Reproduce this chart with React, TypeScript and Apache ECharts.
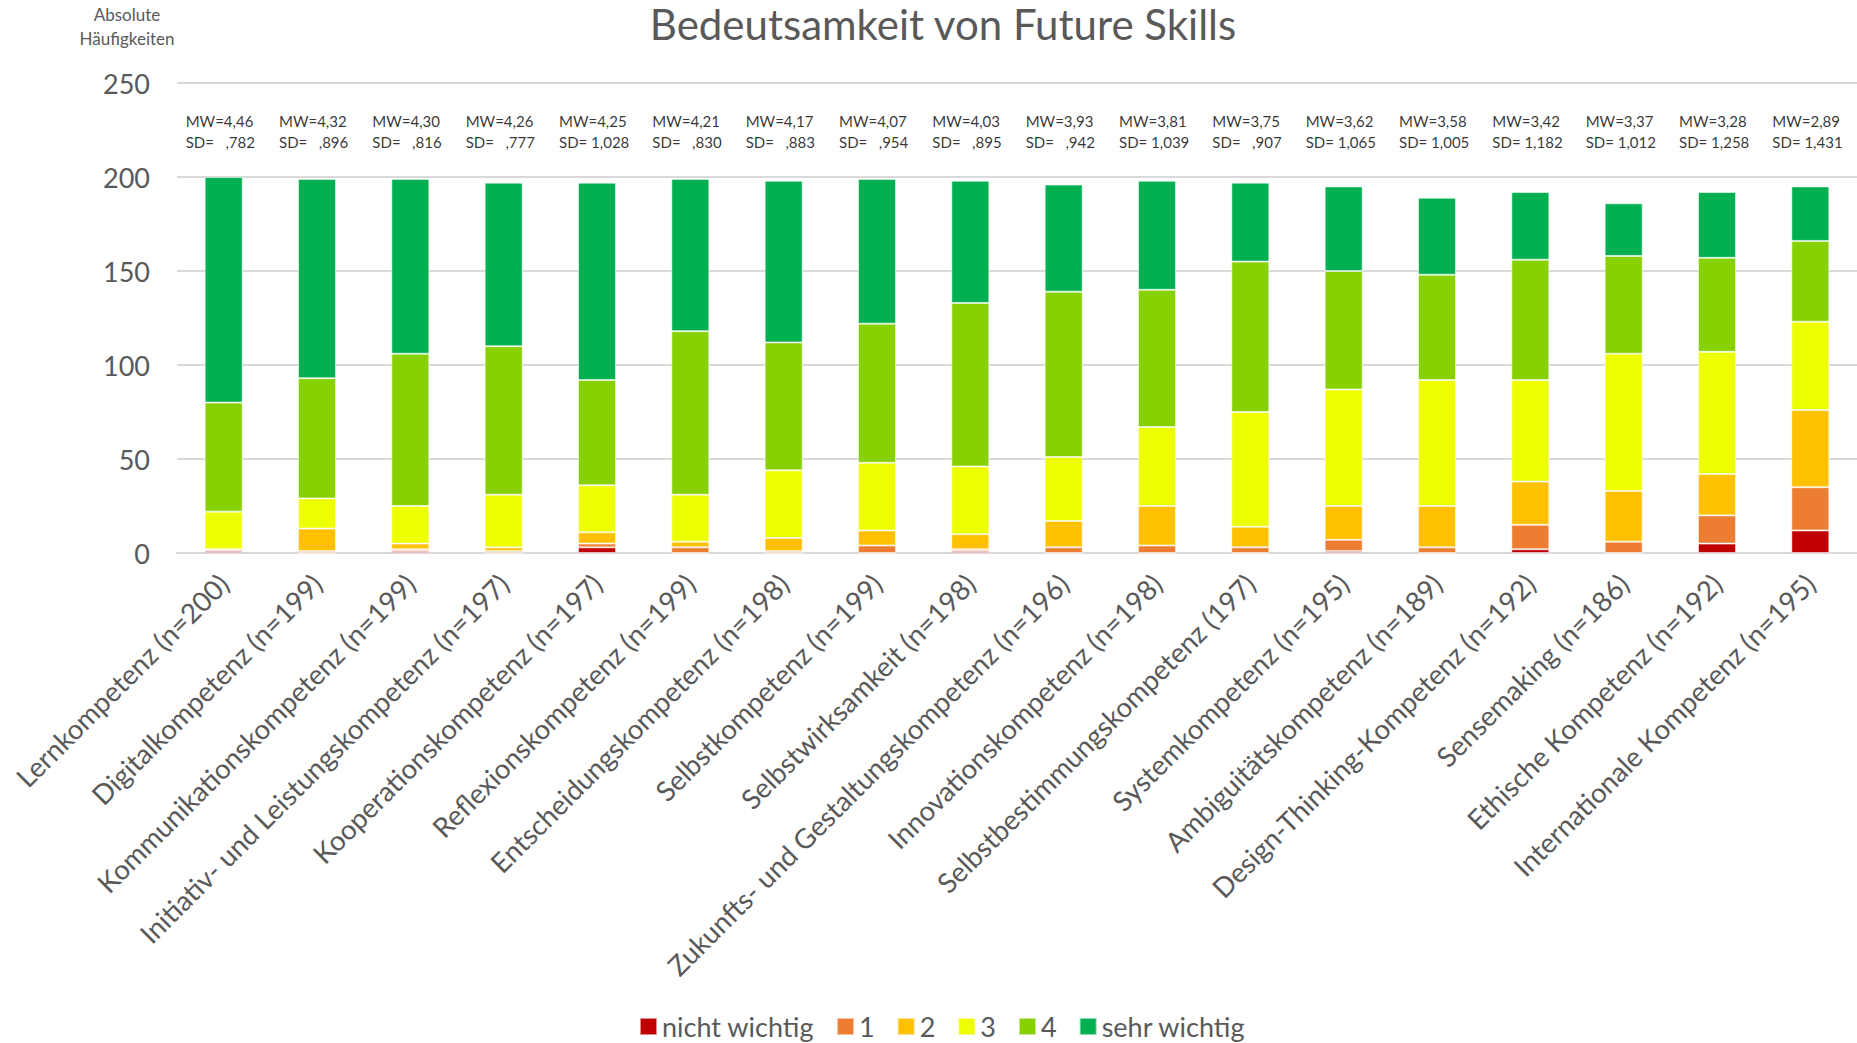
import React, { useEffect, useRef } from "react";
import * as echarts from "echarts";

const categories = [
  "Lernkompetenz (n=200)",
  "Digitalkompetenz (n=199)",
  "Kommunikationskompetenz (n=199)",
  "Initiativ- und Leistungskompetenz (n=197)",
  "Kooperationskompetenz (n=197)",
  "Reflexionskompetenz (n=199)",
  "Entscheidungskompetenz (n=198)",
  "Selbstkompetenz (n=199)",
  "Selbstwirksamkeit (n=198)",
  "Zukunfts- und Gestaltungskompetenz (n=196)",
  "Innovationskompetenz (n=198)",
  "Selbstbestimmungskompetenz (197)",
  "Systemkompetenz (n=195)",
  "Ambiguitätskompetenz (n=189)",
  "Design-Thinking-Kompetenz (n=192)",
  "Sensemaking (n=186)",
  "Ethische Kompetenz (n=192)",
  "Internationale Kompetenz (n=195)",
];

const nichtWichtig = [1, 0, 1, 0, 3, 0, 0, 0, 1, 0, 0, 0, 1, 0, 2, 0, 5, 12];
const stufe1 = [1, 1, 1, 1, 2, 3, 1, 4, 1, 3, 4, 3, 6, 3, 13, 6, 15, 23];
const stufe2 = [0, 12, 3, 2, 6, 3, 7, 8, 8, 14, 21, 11, 18, 22, 23, 27, 22, 41];
const stufe3 = [20, 16, 20, 28, 25, 25, 36, 36, 36, 34, 42, 61, 62, 67, 54, 73, 65, 47];
const stufe4 = [58, 64, 81, 79, 56, 87, 68, 74, 87, 88, 73, 80, 63, 56, 64, 52, 50, 43];
const sehrWichtig = [120, 106, 93, 87, 105, 81, 86, 77, 65, 57, 58, 42, 45, 41, 36, 28, 35, 29];

const mwValues = ["4,46", "4,32", "4,30", "4,26", "4,25", "4,21", "4,17", "4,07", "4,03", "3,93", "3,81", "3,75", "3,62", "3,58", "3,42", "3,37", "3,28", "2,89"];
const sdValues = [",782", ",896", ",816", ",777", "1,028", ",830", ",883", ",954", ",895", ",942", "1,039", ",907", "1,065", "1,005", "1,182", "1,012", "1,258", "1,431"];

const seriesNames = ["nicht wichtig", "1", "2", "3", "4", "sehr wichtig"];
const seriesData = [nichtWichtig, stufe1, stufe2, stufe3, stufe4, sehrWichtig];
const seriesColors = ["#C00000", "#ED7D31", "#FFC000", "#EEFF00", "#88D100", "#00B050"];

const yTicks = { min: 0, max: 250, interval: 50 };
const statsLevel = 224;

const FONT = "Lato";
const GRAY = "#595959";

export default function App() {
  const ref = useRef<HTMLDivElement>(null);
  useEffect(() => {
    if (!ref.current) return;
    const chart = echarts.init(ref.current, null, { renderer: "svg" });
    const bars = seriesNames.map((name, i) => ({
      name,
      type: "bar",
      stack: "total",
      barWidth: 38,
      data: seriesData[i],
      itemStyle: {
        color: seriesColors[i],
        borderColor: "rgba(255,255,255,0.55)",
        borderWidth: 1,
      },
    }));
    const statsSeries = {
      name: "stats",
      type: "scatter",
      symbolSize: 1,
      silent: true,
      itemStyle: { color: "rgba(0,0,0,0)" },
      data: categories.map(() => statsLevel),
      label: {
        show: true,
        position: "inside",
        fontFamily: FONT,
        fontSize: 15,
        lineHeight: 21,
        color: "#000000",
        align: "left",
        offset: [-38, 0],
        formatter: (p: any) => {
          const sd = sdValues[p.dataIndex];
          const sdText = sd.startsWith(",") ? "SD=   " + sd : "SD= " + sd;
          return "MW=" + mwValues[p.dataIndex] + "\n" + sdText;
        },
      },
    };
    chart.setOption({
      animation: false,
      textStyle: { fontFamily: FONT },
      graphic: [
        {
          type: "text",
          x: 943,
          y: 24,
          style: {
            text: "Bedeutsamkeit von Future Skills",
            fill: GRAY,
            font: `42px ${FONT}`,
            textAlign: "center",
            textVerticalAlign: "middle",
          },
        },
        {
          type: "text",
          x: 127,
          y: 26,
          style: {
            text: "Absolute\nHäufigkeiten",
            fill: GRAY,
            font: `17px ${FONT}`,
            lineHeight: 24,
            textAlign: "center",
            textVerticalAlign: "middle",
          },
        },
      ],
      legend: {
        data: seriesNames,
        left: 634,
        top: 1008,
        itemWidth: 17,
        itemHeight: 17,
        itemGap: 22,
        icon: "rect",
        textStyle: { fontFamily: FONT, fontSize: 27, color: GRAY },
      },
      grid: { left: 177, right: 0, top: 83, bottom: 490, containLabel: false },
      xAxis: {
        type: "category",
        data: categories,
        axisLine: { show: true, lineStyle: { color: "#D9D9D9", width: 2 } },
        axisTick: { show: false },
        axisLabel: {
          rotate: 45,
          interval: 0,
          margin: 26,
          fontFamily: FONT,
          fontSize: 27.5,
          color: GRAY,
        },
      },
      yAxis: {
        type: "value",
        min: yTicks.min,
        max: yTicks.max,
        interval: yTicks.interval,
        axisLine: { show: false },
        axisTick: { show: false },
        splitLine: { lineStyle: { color: "#D9D9D9", width: 2 } },
        axisLabel: { margin: 27, fontFamily: FONT, fontSize: 27, color: GRAY },
      },
      series: [...bars, statsSeries],
    });
    return () => chart.dispose();
  }, []);
  return (
    <div
      ref={ref}
      style={{ position: "fixed", left: 0, top: 0, width: 1857, height: 1043, background: "#fff" }}
    />
  );
}
